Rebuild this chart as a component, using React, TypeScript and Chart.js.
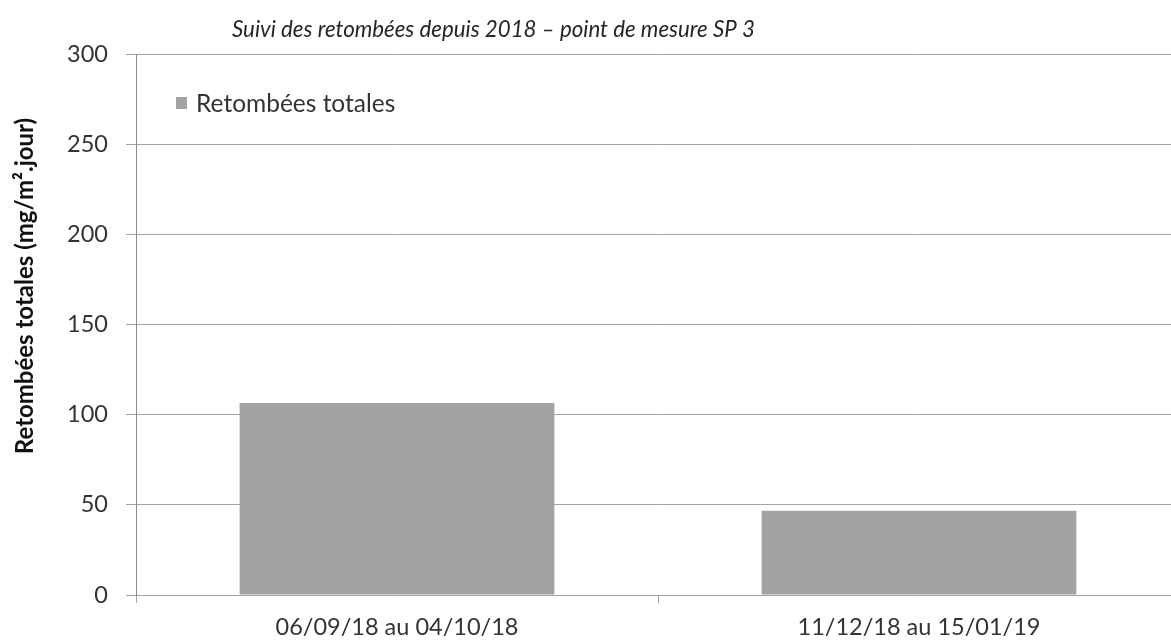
import React, { useEffect, useRef } from "react";
import { Chart, registerables } from "chart.js";

Chart.register(...registerables);

const categories: string[] = ["06/09/18 au 04/10/18", "11/12/18 au 15/01/19"];
const retombeesTotales: number[] = [106.5, 46.7];
const seriesLabel = "Retombées totales";
const chartTitle = "Suivi des retombées depuis 2018 – point de mesure SP 3";
const yAxisTitle = "Retombées totales (mg/m².jour)";
const yTicks: number[] = [0, 50, 100, 150, 200, 250, 300];

const FONT = "Lato, 'Noto Sans', sans-serif";
const BAR_COLOR = "#a3a3a3";
const GRID_COLOR = "#a4a4a4";
const TEXT_COLOR = "#333333";

const overlayPlugin = {
  id: "overlay",
  afterDraw(chart: any) {
    const ctx = chart.ctx;
    ctx.save();
    // title
    ctx.fillStyle = "#262626";
    ctx.font = `italic 22.3px ${FONT}`;
    ctx.textAlign = "left";
    ctx.textBaseline = "middle";
    ctx.fillText(chartTitle, 232, 30);
    // legend inside plot
    const ds = chart.data.datasets[0];
    ctx.fillStyle = ds.backgroundColor as string;
    ctx.fillRect(176, 97, 11, 12);
    ctx.fillStyle = TEXT_COLOR;
    ctx.font = `24.5px ${FONT}`;
    ctx.fillText(ds.label, 196, 104);
    // y axis title
    ctx.translate(33, 286);
    ctx.rotate(-Math.PI / 2);
    ctx.fillStyle = "#111111";
    ctx.font = `bold 24px ${FONT}`;
    ctx.textAlign = "center";
    ctx.textBaseline = "alphabetic";
    ctx.fillText(yAxisTitle, 0, 0);
    ctx.restore();
  },
};

export default function App() {
  const ref = useRef<HTMLCanvasElement | null>(null);

  useEffect(() => {
    if (!ref.current) return;
    const chart = new Chart(ref.current, {
      type: "bar",
      data: {
        labels: categories,
        datasets: [
          {
            label: seriesLabel,
            data: retombeesTotales,
            backgroundColor: BAR_COLOR,
            borderWidth: 0,
            categoryPercentage: 1,
            barPercentage: 0.603,
          },
        ],
      },
      options: {
        responsive: false,
        animation: false,
        layout: { padding: { top: 54, right: 10, left: 0, bottom: 0 } },
        plugins: {
          legend: { display: false },
          title: { display: false },
          tooltip: { enabled: false },
        },
        scales: {
          x: {
            offset: true,
            grid: {
              offset: true,
              drawOnChartArea: false,
              drawTicks: true,
              tickLength: 8,
              color: GRID_COLOR,
            },
            border: { color: GRID_COLOR },
            ticks: {
              color: TEXT_COLOR,
              font: { family: FONT, size: 23.5 },
              padding: 10,
              maxRotation: 0,
            },
            afterFit(scale: any) {
              scale.height = 49;
            },
          },
          y: {
            min: 0,
            max: 300,
            afterBuildTicks(scale: any) {
              scale.ticks = yTicks.map((v) => ({ value: v }));
            },
            grid: {
              color: GRID_COLOR,
              drawTicks: true,
              tickLength: 10,
            },
            border: { color: "#8c8c8c" },
            ticks: {
              color: TEXT_COLOR,
              font: { family: FONT, size: 23.5 },
              padding: 18,
            },
            title: { display: false },
            afterFit(scale: any) {
              scale.width = 136;
            },
          },
        },
      },
      plugins: [overlayPlugin],
    });
    return () => chart.destroy();
  }, []);

  return (
    <div
      style={{
        position: "fixed",
        left: 0,
        top: 0,
        width: 1171,
        height: 644,
        overflow: "hidden",
        background: "#ffffff",
      }}
    >
      <canvas ref={ref} width={1190} height={644} style={{ display: "block" }} />
    </div>
  );
}
